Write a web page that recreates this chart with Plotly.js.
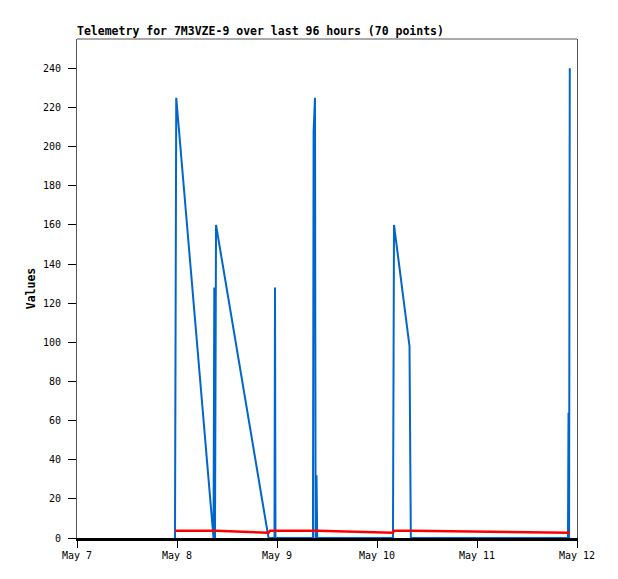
<!DOCTYPE html>
<html>
<head>
<meta charset="utf-8">
<script src="https://cdn.plot.ly/plotly-3.0.1.min.js"></script>
<style>
html,body{margin:0;padding:0;background:#fff;}
#chart{width:618px;height:579px;}
</style>
</head>
<body>
<div id="chart"></div>
<script>
// Timestamps of telemetry points
var times = [
  "2024-05-07 23:31", "2024-05-07 23:38", "2024-05-07 23:49",
  "2024-05-08 08:46", "2024-05-08 08:57", "2024-05-08 09:07", "2024-05-08 09:22",
  "2024-05-08 21:58", "2024-05-08 22:19", "2024-05-08 23:24", "2024-05-08 23:31", "2024-05-08 23:38",
  "2024-05-09 08:38", "2024-05-09 08:47", "2024-05-09 09:07", "2024-05-09 09:16", "2024-05-09 09:29", "2024-05-09 09:39",
  "2024-05-10 03:50", "2024-05-10 04:05", "2024-05-10 07:48", "2024-05-10 07:58", "2024-05-10 08:07",
  "2024-05-11 21:50", "2024-05-11 21:58", "2024-05-11 22:06", "2024-05-11 22:16"
];
// Blue series values
var blueValues = [
  0, 160, 225,
  0, 128, 0, 160,
  0, 0, 0, 128, 0,
  0, 208, 225, 0, 32, 0,
  0, 160, 98, 48, 0,
  0, 64, 0, 240
];
// Red series values
var redValues = [
  3.7, 3.7, 3.7,
  3.7, 3.7, 3.7, 3.7,
  2.7, 3.7, 3.7, 3.7, 3.7,
  3.7, 3.7, 3.7, 3.7, 3.7, 3.7,
  2.7, 3.7, 3.7, 3.7, 3.7,
  2.7, 2.7, 2.7, 2.7
];
var yTicks = [0, 20, 40, 60, 80, 100, 120, 140, 160, 180, 200, 220, 240];
var xRange = ["2024-05-07 00:00", "2024-05-12 00:00"];
var titleText = "Telemetry for 7M3VZE-9 over last 96 hours (70 points)";
var yTitle = "Values";

var mono = "DejaVu Sans Mono, monospace";

var traces = [
  {x: times, y: blueValues, type: "scatter", mode: "lines",
   line: {color: "#0066cc", width: 2}, hoverinfo: "skip"},
  {x: times, y: redValues, type: "scatter", mode: "lines",
   line: {color: "#ff0000", width: 2.5}, hoverinfo: "skip"}
];

var layout = {
  width: 618, height: 579,
  margin: {l: 77, r: 41, t: 39, b: 41},
  paper_bgcolor: "#ffffff", plot_bgcolor: "#ffffff",
  showlegend: false,
  title: {
    text: "<b>" + titleText + "</b>",
    font: {family: mono, size: 11.5, color: "#000"},
    xref: "paper", x: 0, xanchor: "left",
    yref: "container", y: 1 - 31/579, yanchor: "middle"
  },
  xaxis: {
    type: "date", range: xRange,
    dtick: 86400000, tick0: "2024-05-07",
    tickformat: "%b %-d",
    showgrid: false, zeroline: false,
    showline: true, linecolor: "#000", linewidth: 3,
    ticks: "outside", ticklen: 7, tickwidth: 1, tickcolor: "#000",
    ticklabelstandoff: -1,
    tickfont: {family: mono, size: 10, color: "#000"},
    fixedrange: true
  },
  yaxis: {
    range: [0, 255],
    tickvals: yTicks,
    showgrid: false, zeroline: false,
    showline: true, mirror: true, linecolor: "#555", linewidth: 1,
    ticks: "outside", ticklen: 8, tickwidth: 1, tickcolor: "#000",
    ticklabelstandoff: 5,
    tickfont: {family: mono, size: 10, color: "#000"},
    title: {text: "<b>" + yTitle + "</b>", font: {family: mono, size: 11.5, color: "#000"}, standoff: 4},
    fixedrange: true
  },
  shapes: [
    {type: "line", xref: "paper", yref: "paper", x0: 0, x1: 1, y0: 1, y1: 1,
     line: {color: "#555", width: 1}}
  ]
};

Plotly.newPlot("chart", traces, layout, {staticPlot: true, displayModeBar: false});
</script>
</body>
</html>
